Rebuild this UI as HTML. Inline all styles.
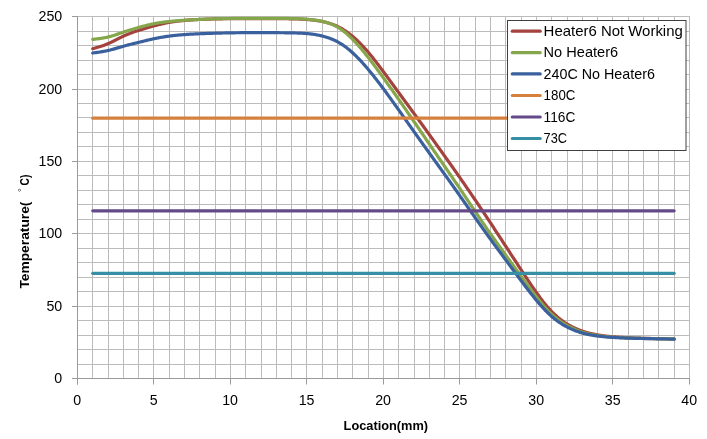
<!DOCTYPE html>
<html><head><meta charset="utf-8"><title>Temperature vs Location</title>
<style>
html,body{margin:0;padding:0;background:#fff;}
body{width:707px;height:439px;overflow:hidden;}
svg{display:block;}
text{font-family:'Liberation Sans', Arial, sans-serif;fill:#000;}
</style></head><body>
<svg width="707" height="439" viewBox="0 0 707 439">
<line x1="77.5" y1="16.10" x2="77.5" y2="378.70" stroke="#bcbcbc" stroke-width="1"/>
<line x1="92.5" y1="16.10" x2="92.5" y2="378.70" stroke="#bcbcbc" stroke-width="1"/>
<line x1="108.5" y1="16.10" x2="108.5" y2="378.70" stroke="#bcbcbc" stroke-width="1"/>
<line x1="123.5" y1="16.10" x2="123.5" y2="378.70" stroke="#bcbcbc" stroke-width="1"/>
<line x1="138.5" y1="16.10" x2="138.5" y2="378.70" stroke="#bcbcbc" stroke-width="1"/>
<line x1="153.5" y1="16.10" x2="153.5" y2="378.70" stroke="#bcbcbc" stroke-width="1"/>
<line x1="169.5" y1="16.10" x2="169.5" y2="378.70" stroke="#bcbcbc" stroke-width="1"/>
<line x1="184.5" y1="16.10" x2="184.5" y2="378.70" stroke="#bcbcbc" stroke-width="1"/>
<line x1="199.5" y1="16.10" x2="199.5" y2="378.70" stroke="#bcbcbc" stroke-width="1"/>
<line x1="215.5" y1="16.10" x2="215.5" y2="378.70" stroke="#bcbcbc" stroke-width="1"/>
<line x1="230.5" y1="16.10" x2="230.5" y2="378.70" stroke="#bcbcbc" stroke-width="1"/>
<line x1="245.5" y1="16.10" x2="245.5" y2="378.70" stroke="#bcbcbc" stroke-width="1"/>
<line x1="261.5" y1="16.10" x2="261.5" y2="378.70" stroke="#bcbcbc" stroke-width="1"/>
<line x1="276.5" y1="16.10" x2="276.5" y2="378.70" stroke="#bcbcbc" stroke-width="1"/>
<line x1="291.5" y1="16.10" x2="291.5" y2="378.70" stroke="#bcbcbc" stroke-width="1"/>
<line x1="306.5" y1="16.10" x2="306.5" y2="378.70" stroke="#bcbcbc" stroke-width="1"/>
<line x1="322.5" y1="16.10" x2="322.5" y2="378.70" stroke="#bcbcbc" stroke-width="1"/>
<line x1="337.5" y1="16.10" x2="337.5" y2="378.70" stroke="#bcbcbc" stroke-width="1"/>
<line x1="352.5" y1="16.10" x2="352.5" y2="378.70" stroke="#bcbcbc" stroke-width="1"/>
<line x1="368.5" y1="16.10" x2="368.5" y2="378.70" stroke="#bcbcbc" stroke-width="1"/>
<line x1="383.5" y1="16.10" x2="383.5" y2="378.70" stroke="#bcbcbc" stroke-width="1"/>
<line x1="398.5" y1="16.10" x2="398.5" y2="378.70" stroke="#bcbcbc" stroke-width="1"/>
<line x1="414.5" y1="16.10" x2="414.5" y2="378.70" stroke="#bcbcbc" stroke-width="1"/>
<line x1="429.5" y1="16.10" x2="429.5" y2="378.70" stroke="#bcbcbc" stroke-width="1"/>
<line x1="444.5" y1="16.10" x2="444.5" y2="378.70" stroke="#bcbcbc" stroke-width="1"/>
<line x1="459.5" y1="16.10" x2="459.5" y2="378.70" stroke="#bcbcbc" stroke-width="1"/>
<line x1="475.5" y1="16.10" x2="475.5" y2="378.70" stroke="#bcbcbc" stroke-width="1"/>
<line x1="490.5" y1="16.10" x2="490.5" y2="378.70" stroke="#bcbcbc" stroke-width="1"/>
<line x1="505.5" y1="16.10" x2="505.5" y2="378.70" stroke="#bcbcbc" stroke-width="1"/>
<line x1="521.5" y1="16.10" x2="521.5" y2="378.70" stroke="#bcbcbc" stroke-width="1"/>
<line x1="536.5" y1="16.10" x2="536.5" y2="378.70" stroke="#bcbcbc" stroke-width="1"/>
<line x1="551.5" y1="16.10" x2="551.5" y2="378.70" stroke="#bcbcbc" stroke-width="1"/>
<line x1="567.5" y1="16.10" x2="567.5" y2="378.70" stroke="#bcbcbc" stroke-width="1"/>
<line x1="582.5" y1="16.10" x2="582.5" y2="378.70" stroke="#bcbcbc" stroke-width="1"/>
<line x1="597.5" y1="16.10" x2="597.5" y2="378.70" stroke="#bcbcbc" stroke-width="1"/>
<line x1="612.5" y1="16.10" x2="612.5" y2="378.70" stroke="#bcbcbc" stroke-width="1"/>
<line x1="628.5" y1="16.10" x2="628.5" y2="378.70" stroke="#bcbcbc" stroke-width="1"/>
<line x1="643.5" y1="16.10" x2="643.5" y2="378.70" stroke="#bcbcbc" stroke-width="1"/>
<line x1="658.5" y1="16.10" x2="658.5" y2="378.70" stroke="#bcbcbc" stroke-width="1"/>
<line x1="674.5" y1="16.10" x2="674.5" y2="378.70" stroke="#bcbcbc" stroke-width="1"/>
<line x1="689.5" y1="16.10" x2="689.5" y2="378.70" stroke="#bcbcbc" stroke-width="1"/>
<line x1="77.45" y1="378.5" x2="689.95" y2="378.5" stroke="#bcbcbc" stroke-width="1"/>
<line x1="77.45" y1="364.5" x2="689.95" y2="364.5" stroke="#bcbcbc" stroke-width="1"/>
<line x1="77.45" y1="349.5" x2="689.95" y2="349.5" stroke="#bcbcbc" stroke-width="1"/>
<line x1="77.45" y1="335.5" x2="689.95" y2="335.5" stroke="#bcbcbc" stroke-width="1"/>
<line x1="77.45" y1="320.5" x2="689.95" y2="320.5" stroke="#bcbcbc" stroke-width="1"/>
<line x1="77.45" y1="306.5" x2="689.95" y2="306.5" stroke="#bcbcbc" stroke-width="1"/>
<line x1="77.45" y1="291.5" x2="689.95" y2="291.5" stroke="#bcbcbc" stroke-width="1"/>
<line x1="77.45" y1="277.5" x2="689.95" y2="277.5" stroke="#bcbcbc" stroke-width="1"/>
<line x1="77.45" y1="262.5" x2="689.95" y2="262.5" stroke="#bcbcbc" stroke-width="1"/>
<line x1="77.45" y1="248.5" x2="689.95" y2="248.5" stroke="#bcbcbc" stroke-width="1"/>
<line x1="77.45" y1="233.5" x2="689.95" y2="233.5" stroke="#bcbcbc" stroke-width="1"/>
<line x1="77.45" y1="219.5" x2="689.95" y2="219.5" stroke="#bcbcbc" stroke-width="1"/>
<line x1="77.45" y1="204.5" x2="689.95" y2="204.5" stroke="#bcbcbc" stroke-width="1"/>
<line x1="77.45" y1="190.5" x2="689.95" y2="190.5" stroke="#bcbcbc" stroke-width="1"/>
<line x1="77.45" y1="175.5" x2="689.95" y2="175.5" stroke="#bcbcbc" stroke-width="1"/>
<line x1="77.45" y1="161.5" x2="689.95" y2="161.5" stroke="#bcbcbc" stroke-width="1"/>
<line x1="77.45" y1="146.5" x2="689.95" y2="146.5" stroke="#bcbcbc" stroke-width="1"/>
<line x1="77.45" y1="132.5" x2="689.95" y2="132.5" stroke="#bcbcbc" stroke-width="1"/>
<line x1="77.45" y1="117.5" x2="689.95" y2="117.5" stroke="#bcbcbc" stroke-width="1"/>
<line x1="77.45" y1="103.5" x2="689.95" y2="103.5" stroke="#bcbcbc" stroke-width="1"/>
<line x1="77.45" y1="89.5" x2="689.95" y2="89.5" stroke="#bcbcbc" stroke-width="1"/>
<line x1="77.45" y1="74.5" x2="689.95" y2="74.5" stroke="#bcbcbc" stroke-width="1"/>
<line x1="77.45" y1="60.5" x2="689.95" y2="60.5" stroke="#bcbcbc" stroke-width="1"/>
<line x1="77.45" y1="45.5" x2="689.95" y2="45.5" stroke="#bcbcbc" stroke-width="1"/>
<line x1="77.45" y1="31.5" x2="689.95" y2="31.5" stroke="#bcbcbc" stroke-width="1"/>
<line x1="77.45" y1="16.5" x2="689.95" y2="16.5" stroke="#bcbcbc" stroke-width="1"/>
<line x1="77.5" y1="16.10" x2="77.5" y2="384.5" stroke="#9a9a9a" stroke-width="1"/>
<line x1="72.0" y1="378.5" x2="689.95" y2="378.5" stroke="#9a9a9a" stroke-width="1"/>
<line x1="72.0" y1="378.5" x2="77.5" y2="378.5" stroke="#9a9a9a" stroke-width="1"/>
<line x1="72.0" y1="306.5" x2="77.5" y2="306.5" stroke="#9a9a9a" stroke-width="1"/>
<line x1="72.0" y1="233.5" x2="77.5" y2="233.5" stroke="#9a9a9a" stroke-width="1"/>
<line x1="72.0" y1="161.5" x2="77.5" y2="161.5" stroke="#9a9a9a" stroke-width="1"/>
<line x1="72.0" y1="89.5" x2="77.5" y2="89.5" stroke="#9a9a9a" stroke-width="1"/>
<line x1="72.0" y1="16.5" x2="77.5" y2="16.5" stroke="#9a9a9a" stroke-width="1"/>
<line x1="77.5" y1="378.5" x2="77.5" y2="384.5" stroke="#9a9a9a" stroke-width="1"/>
<line x1="153.5" y1="378.5" x2="153.5" y2="384.5" stroke="#9a9a9a" stroke-width="1"/>
<line x1="230.5" y1="378.5" x2="230.5" y2="384.5" stroke="#9a9a9a" stroke-width="1"/>
<line x1="306.5" y1="378.5" x2="306.5" y2="384.5" stroke="#9a9a9a" stroke-width="1"/>
<line x1="383.5" y1="378.5" x2="383.5" y2="384.5" stroke="#9a9a9a" stroke-width="1"/>
<line x1="459.5" y1="378.5" x2="459.5" y2="384.5" stroke="#9a9a9a" stroke-width="1"/>
<line x1="536.5" y1="378.5" x2="536.5" y2="384.5" stroke="#9a9a9a" stroke-width="1"/>
<line x1="612.5" y1="378.5" x2="612.5" y2="384.5" stroke="#9a9a9a" stroke-width="1"/>
<line x1="689.5" y1="378.5" x2="689.5" y2="384.5" stroke="#9a9a9a" stroke-width="1"/>
<path d="M92.70,48.68 L93.53,48.45 L94.36,48.22 L95.19,47.99 L96.03,47.76 L96.86,47.52 L97.69,47.28 L98.52,47.04 L99.35,46.79 L100.18,46.54 L101.02,46.27 L101.85,46.00 L102.68,45.73 L103.51,45.44 L104.34,45.15 L105.18,44.84 L106.01,44.52 L106.84,44.19 L107.67,43.85 L108.50,43.50 L109.34,43.13 L110.17,42.75 L111.00,42.36 L111.83,41.96 L112.66,41.55 L113.50,41.14 L114.33,40.72 L115.16,40.30 L115.99,39.88 L116.82,39.45 L117.65,39.03 L118.49,38.60 L119.32,38.18 L120.15,37.76 L120.98,37.35 L121.81,36.94 L122.65,36.54 L123.48,36.15 L124.31,35.77 L125.14,35.40 L125.97,35.04 L126.81,34.69 L127.64,34.34 L128.47,34.00 L129.30,33.67 L130.13,33.35 L130.97,33.03 L131.80,32.73 L132.63,32.42 L133.46,32.12 L134.29,31.83 L135.12,31.55 L135.96,31.26 L136.79,30.98 L137.62,30.71 L138.45,30.44 L139.28,30.17 L140.12,29.91 L140.95,29.64 L141.78,29.39 L142.61,29.13 L143.44,28.88 L144.28,28.63 L145.11,28.38 L145.94,28.13 L146.77,27.89 L147.60,27.65 L148.44,27.41 L149.27,27.18 L150.10,26.95 L150.93,26.72 L151.76,26.49 L152.59,26.26 L153.43,26.04 L154.26,25.82 L155.09,25.60 L155.92,25.38 L156.75,25.17 L157.59,24.95 L158.42,24.75 L159.25,24.54 L160.08,24.34 L160.91,24.14 L161.75,23.94 L162.58,23.75 L163.41,23.57 L164.24,23.39 L165.07,23.21 L165.91,23.04 L166.74,22.87 L167.57,22.71 L168.40,22.55 L169.23,22.40 L170.06,22.25 L170.90,22.11 L171.73,21.98 L172.56,21.85 L173.39,21.73 L174.22,21.61 L175.06,21.49 L175.89,21.38 L176.72,21.28 L177.55,21.18 L178.38,21.08 L179.22,20.98 L180.05,20.89 L180.88,20.81 L181.71,20.72 L182.54,20.64 L183.38,20.57 L184.21,20.49 L185.04,20.42 L185.87,20.35 L186.70,20.28 L187.53,20.21 L188.37,20.15 L189.20,20.09 L190.03,20.03 L190.86,19.97 L191.69,19.91 L192.53,19.86 L193.36,19.81 L194.19,19.75 L195.02,19.71 L195.85,19.66 L196.69,19.61 L197.52,19.57 L198.35,19.52 L199.18,19.48 L200.01,19.44 L200.85,19.40 L201.68,19.36 L202.51,19.33 L203.34,19.29 L204.17,19.26 L205.00,19.23 L205.84,19.19 L206.67,19.16 L207.50,19.13 L208.33,19.10 L209.16,19.08 L210.00,19.05 L210.83,19.03 L211.66,19.00 L212.49,18.98 L213.32,18.96 L214.16,18.94 L214.99,18.92 L215.82,18.90 L216.65,18.88 L217.48,18.86 L218.32,18.85 L219.15,18.83 L219.98,18.82 L220.81,18.80 L221.64,18.79 L222.47,18.78 L223.31,18.77 L224.14,18.76 L224.97,18.75 L225.80,18.74 L226.63,18.73 L227.47,18.72 L228.30,18.72 L229.13,18.71 L229.96,18.71 L230.79,18.70 L231.63,18.70 L232.46,18.69 L233.29,18.69 L234.12,18.69 L234.95,18.68 L235.79,18.68 L236.62,18.68 L237.45,18.68 L238.28,18.68 L239.11,18.68 L239.94,18.68 L240.78,18.67 L241.61,18.67 L242.44,18.67 L243.27,18.67 L244.10,18.67 L244.94,18.67 L245.77,18.67 L246.60,18.67 L247.43,18.67 L248.26,18.67 L249.10,18.67 L249.93,18.67 L250.76,18.67 L251.59,18.67 L252.42,18.67 L253.26,18.67 L254.09,18.67 L254.92,18.67 L255.75,18.67 L256.58,18.67 L257.41,18.67 L258.25,18.67 L259.08,18.67 L259.91,18.67 L260.74,18.67 L261.57,18.67 L262.41,18.67 L263.24,18.67 L264.07,18.67 L264.90,18.67 L265.73,18.67 L266.57,18.67 L267.40,18.67 L268.23,18.66 L269.06,18.66 L269.89,18.66 L270.73,18.66 L271.56,18.66 L272.39,18.67 L273.22,18.67 L274.05,18.67 L274.88,18.67 L275.72,18.67 L276.55,18.67 L277.38,18.67 L278.21,18.68 L279.04,18.68 L279.88,18.68 L280.71,18.69 L281.54,18.69 L282.37,18.70 L283.20,18.71 L284.04,18.71 L284.87,18.72 L285.70,18.73 L286.53,18.74 L287.36,18.75 L288.20,18.76 L289.03,18.78 L289.86,18.79 L290.69,18.81 L291.52,18.82 L292.36,18.84 L293.19,18.86 L294.02,18.88 L294.85,18.90 L295.68,18.93 L296.51,18.95 L297.35,18.98 L298.18,19.01 L299.01,19.05 L299.84,19.08 L300.67,19.12 L301.51,19.16 L302.34,19.20 L303.17,19.25 L304.00,19.30 L304.83,19.35 L305.67,19.41 L306.50,19.47 L307.33,19.53 L308.16,19.60 L308.99,19.67 L309.83,19.74 L310.66,19.82 L311.49,19.90 L312.32,19.99 L313.15,20.09 L313.98,20.19 L314.82,20.29 L315.65,20.40 L316.48,20.52 L317.31,20.64 L318.14,20.77 L318.98,20.90 L319.81,21.05 L320.64,21.20 L321.47,21.35 L322.30,21.52 L323.14,21.69 L323.97,21.87 L324.80,22.06 L325.63,22.26 L326.46,22.47 L327.30,22.69 L328.13,22.92 L328.96,23.16 L329.79,23.41 L330.62,23.68 L331.45,23.95 L332.29,24.25 L333.12,24.55 L333.95,24.87 L334.78,25.21 L335.61,25.56 L336.45,25.93 L337.28,26.31 L338.11,26.71 L338.94,27.13 L339.77,27.56 L340.61,28.02 L341.44,28.49 L342.27,28.97 L343.10,29.47 L343.93,29.99 L344.77,30.53 L345.60,31.08 L346.43,31.65 L347.26,32.23 L348.09,32.84 L348.92,33.45 L349.76,34.09 L350.59,34.74 L351.42,35.40 L352.25,36.09 L353.08,36.78 L353.92,37.50 L354.75,38.23 L355.58,38.97 L356.41,39.73 L357.24,40.51 L358.08,41.30 L358.91,42.11 L359.74,42.94 L360.57,43.78 L361.40,44.64 L362.24,45.51 L363.07,46.40 L363.90,47.30 L364.73,48.22 L365.56,49.15 L366.39,50.09 L367.23,51.05 L368.06,52.03 L368.89,53.01 L369.72,54.01 L370.55,55.02 L371.39,56.04 L372.22,57.07 L373.05,58.11 L373.88,59.15 L374.71,60.21 L375.55,61.28 L376.38,62.36 L377.21,63.44 L378.04,64.53 L378.87,65.63 L379.71,66.73 L380.54,67.84 L381.37,68.95 L382.20,70.07 L383.03,71.19 L383.86,72.31 L384.70,73.44 L385.53,74.57 L386.36,75.71 L387.19,76.84 L388.02,77.98 L388.86,79.11 L389.69,80.25 L390.52,81.39 L391.35,82.53 L392.18,83.67 L393.02,84.81 L393.85,85.95 L394.68,87.09 L395.51,88.23 L396.34,89.37 L397.18,90.51 L398.01,91.64 L398.84,92.78 L399.67,93.91 L400.50,95.05 L401.33,96.18 L402.17,97.32 L403.00,98.45 L403.83,99.59 L404.66,100.72 L405.49,101.85 L406.33,102.99 L407.16,104.12 L407.99,105.26 L408.82,106.40 L409.65,107.53 L410.49,108.67 L411.32,109.81 L412.15,110.95 L412.98,112.09 L413.81,113.23 L414.65,114.37 L415.48,115.51 L416.31,116.65 L417.14,117.79 L417.97,118.94 L418.80,120.08 L419.64,121.22 L420.47,122.37 L421.30,123.52 L422.13,124.67 L422.96,125.81 L423.80,126.96 L424.63,128.11 L425.46,129.27 L426.29,130.42 L427.12,131.57 L427.96,132.73 L428.79,133.88 L429.62,135.04 L430.45,136.20 L431.28,137.36 L432.12,138.52 L432.95,139.68 L433.78,140.84 L434.61,142.00 L435.44,143.16 L436.27,144.33 L437.11,145.49 L437.94,146.65 L438.77,147.82 L439.60,148.98 L440.43,150.15 L441.27,151.31 L442.10,152.48 L442.93,153.64 L443.76,154.81 L444.59,155.98 L445.43,157.14 L446.26,158.31 L447.09,159.48 L447.92,160.65 L448.75,161.82 L449.59,163.00 L450.42,164.17 L451.25,165.34 L452.08,166.52 L452.91,167.70 L453.74,168.88 L454.58,170.06 L455.41,171.24 L456.24,172.43 L457.07,173.61 L457.90,174.80 L458.74,176.00 L459.57,177.19 L460.40,178.39 L461.23,179.59 L462.06,180.79 L462.90,182.00 L463.73,183.20 L464.56,184.41 L465.39,185.62 L466.22,186.83 L467.06,188.04 L467.89,189.25 L468.72,190.47 L469.55,191.68 L470.38,192.89 L471.21,194.11 L472.05,195.32 L472.88,196.54 L473.71,197.76 L474.54,198.98 L475.37,200.20 L476.21,201.42 L477.04,202.65 L477.87,203.88 L478.70,205.11 L479.53,206.35 L480.37,207.58 L481.20,208.83 L482.03,210.07 L482.86,211.32 L483.69,212.56 L484.53,213.82 L485.36,215.07 L486.19,216.33 L487.02,217.59 L487.85,218.85 L488.68,220.11 L489.52,221.38 L490.35,222.65 L491.18,223.92 L492.01,225.19 L492.84,226.47 L493.68,227.74 L494.51,229.02 L495.34,230.29 L496.17,231.57 L497.00,232.84 L497.84,234.12 L498.67,235.39 L499.50,236.67 L500.33,237.94 L501.16,239.22 L502.00,240.49 L502.83,241.77 L503.66,243.04 L504.49,244.32 L505.32,245.59 L506.15,246.87 L506.99,248.15 L507.82,249.42 L508.65,250.70 L509.48,251.98 L510.31,253.26 L511.15,254.54 L511.98,255.82 L512.81,257.10 L513.64,258.38 L514.47,259.66 L515.31,260.93 L516.14,262.21 L516.97,263.48 L517.80,264.76 L518.63,266.03 L519.47,267.30 L520.30,268.57 L521.13,269.84 L521.96,271.10 L522.79,272.37 L523.62,273.63 L524.46,274.89 L525.29,276.14 L526.12,277.40 L526.95,278.65 L527.78,279.90 L528.62,281.14 L529.45,282.38 L530.28,283.62 L531.11,284.85 L531.94,286.07 L532.78,287.29 L533.61,288.50 L534.44,289.70 L535.27,290.89 L536.10,292.07 L536.94,293.25 L537.77,294.41 L538.60,295.56 L539.43,296.70 L540.26,297.83 L541.09,298.94 L541.93,300.04 L542.76,301.13 L543.59,302.19 L544.42,303.24 L545.25,304.27 L546.09,305.29 L546.92,306.28 L547.75,307.25 L548.58,308.21 L549.41,309.14 L550.25,310.05 L551.08,310.93 L551.91,311.80 L552.74,312.64 L553.57,313.46 L554.41,314.25 L555.24,315.03 L556.07,315.78 L556.90,316.51 L557.73,317.22 L558.57,317.91 L559.40,318.58 L560.23,319.24 L561.06,319.87 L561.89,320.49 L562.72,321.09 L563.56,321.67 L564.39,322.24 L565.22,322.78 L566.05,323.32 L566.88,323.84 L567.72,324.34 L568.55,324.83 L569.38,325.31 L570.21,325.77 L571.04,326.22 L571.88,326.65 L572.71,327.07 L573.54,327.48 L574.37,327.88 L575.20,328.26 L576.04,328.63 L576.87,328.99 L577.70,329.34 L578.53,329.68 L579.36,330.00 L580.19,330.32 L581.03,330.62 L581.86,330.92 L582.69,331.20 L583.52,331.48 L584.35,331.74 L585.19,332.00 L586.02,332.25 L586.85,332.49 L587.68,332.72 L588.51,332.94 L589.35,333.15 L590.18,333.36 L591.01,333.55 L591.84,333.75 L592.67,333.93 L593.51,334.11 L594.34,334.28 L595.17,334.44 L596.00,334.60 L596.83,334.75 L597.66,334.89 L598.50,335.03 L599.33,335.17 L600.16,335.30 L600.99,335.42 L601.82,335.54 L602.66,335.65 L603.49,335.76 L604.32,335.87 L605.15,335.97 L605.98,336.07 L606.82,336.16 L607.65,336.26 L608.48,336.34 L609.31,336.43 L610.14,336.51 L610.98,336.59 L611.81,336.66 L612.64,336.73 L613.47,336.81 L614.30,336.87 L615.13,336.94 L615.97,337.00 L616.80,337.07 L617.63,337.13 L618.46,337.19 L619.29,337.24 L620.13,337.30 L620.96,337.35 L621.79,337.40 L622.62,337.45 L623.45,337.50 L624.29,337.55 L625.12,337.59 L625.95,337.63 L626.78,337.68 L627.61,337.72 L628.45,337.76 L629.28,337.80 L630.11,337.83 L630.94,337.87 L631.77,337.91 L632.60,337.94 L633.44,337.97 L634.27,338.01 L635.10,338.04 L635.93,338.07 L636.76,338.10 L637.60,338.12 L638.43,338.15 L639.26,338.18 L640.09,338.20 L640.92,338.23 L641.76,338.25 L642.59,338.28 L643.42,338.30 L644.25,338.32 L645.08,338.34 L645.92,338.36 L646.75,338.38 L647.58,338.40 L648.41,338.42 L649.24,338.44 L650.07,338.46 L650.91,338.48 L651.74,338.50 L652.57,338.51 L653.40,338.53 L654.23,338.55 L655.07,338.56 L655.90,338.58 L656.73,338.59 L657.56,338.61 L658.39,338.62 L659.23,338.64 L660.06,338.65 L660.89,338.67 L661.72,338.68 L662.55,338.70 L663.39,338.71 L664.22,338.73 L665.05,338.74 L665.88,338.76 L666.71,338.77 L667.54,338.79 L668.38,338.80 L669.21,338.82 L670.04,338.83 L670.87,338.85 L671.70,338.86 L672.54,338.88 L673.37,338.89 L674.20,338.90" fill="none" stroke="#a4433d" stroke-width="3.2" stroke-linejoin="round" stroke-linecap="round"/>
<path d="M92.70,39.39 L93.53,39.30 L94.36,39.20 L95.19,39.11 L96.03,39.01 L96.86,38.91 L97.69,38.81 L98.52,38.70 L99.35,38.59 L100.18,38.47 L101.02,38.35 L101.85,38.22 L102.68,38.08 L103.51,37.94 L104.34,37.79 L105.18,37.63 L106.01,37.46 L106.84,37.28 L107.67,37.09 L108.50,36.89 L109.34,36.67 L110.17,36.45 L111.00,36.22 L111.83,35.98 L112.66,35.73 L113.50,35.47 L114.33,35.21 L115.16,34.94 L115.99,34.67 L116.82,34.39 L117.65,34.11 L118.49,33.83 L119.32,33.54 L120.15,33.26 L120.98,32.98 L121.81,32.69 L122.65,32.41 L123.48,32.13 L124.31,31.85 L125.14,31.58 L125.97,31.31 L126.81,31.04 L127.64,30.77 L128.47,30.51 L129.30,30.25 L130.13,29.99 L130.97,29.74 L131.80,29.49 L132.63,29.24 L133.46,28.99 L134.29,28.74 L135.12,28.50 L135.96,28.26 L136.79,28.02 L137.62,27.78 L138.45,27.54 L139.28,27.31 L140.12,27.07 L140.95,26.84 L141.78,26.62 L142.61,26.39 L143.44,26.17 L144.28,25.95 L145.11,25.73 L145.94,25.52 L146.77,25.31 L147.60,25.11 L148.44,24.91 L149.27,24.71 L150.10,24.52 L150.93,24.33 L151.76,24.15 L152.59,23.97 L153.43,23.80 L154.26,23.64 L155.09,23.48 L155.92,23.33 L156.75,23.18 L157.59,23.03 L158.42,22.90 L159.25,22.76 L160.08,22.63 L160.91,22.51 L161.75,22.39 L162.58,22.28 L163.41,22.16 L164.24,22.06 L165.07,21.95 L165.91,21.85 L166.74,21.75 L167.57,21.66 L168.40,21.57 L169.23,21.48 L170.06,21.39 L170.90,21.31 L171.73,21.23 L172.56,21.15 L173.39,21.08 L174.22,21.00 L175.06,20.93 L175.89,20.86 L176.72,20.79 L177.55,20.72 L178.38,20.66 L179.22,20.60 L180.05,20.53 L180.88,20.47 L181.71,20.41 L182.54,20.36 L183.38,20.30 L184.21,20.25 L185.04,20.19 L185.87,20.14 L186.70,20.09 L187.53,20.04 L188.37,19.98 L189.20,19.94 L190.03,19.89 L190.86,19.84 L191.69,19.79 L192.53,19.75 L193.36,19.70 L194.19,19.66 L195.02,19.61 L195.85,19.57 L196.69,19.53 L197.52,19.49 L198.35,19.45 L199.18,19.41 L200.01,19.37 L200.85,19.33 L201.68,19.30 L202.51,19.26 L203.34,19.22 L204.17,19.19 L205.00,19.15 L205.84,19.12 L206.67,19.09 L207.50,19.06 L208.33,19.02 L209.16,18.99 L210.00,18.96 L210.83,18.93 L211.66,18.91 L212.49,18.88 L213.32,18.85 L214.16,18.83 L214.99,18.80 L215.82,18.78 L216.65,18.75 L217.48,18.73 L218.32,18.71 L219.15,18.69 L219.98,18.66 L220.81,18.64 L221.64,18.63 L222.47,18.61 L223.31,18.59 L224.14,18.57 L224.97,18.56 L225.80,18.54 L226.63,18.53 L227.47,18.52 L228.30,18.50 L229.13,18.49 L229.96,18.48 L230.79,18.47 L231.63,18.46 L232.46,18.45 L233.29,18.45 L234.12,18.44 L234.95,18.43 L235.79,18.43 L236.62,18.42 L237.45,18.42 L238.28,18.42 L239.11,18.41 L239.94,18.41 L240.78,18.41 L241.61,18.40 L242.44,18.40 L243.27,18.40 L244.10,18.40 L244.94,18.40 L245.77,18.40 L246.60,18.40 L247.43,18.40 L248.26,18.40 L249.10,18.40 L249.93,18.40 L250.76,18.40 L251.59,18.39 L252.42,18.39 L253.26,18.39 L254.09,18.39 L254.92,18.39 L255.75,18.39 L256.58,18.39 L257.41,18.39 L258.25,18.39 L259.08,18.39 L259.91,18.39 L260.74,18.39 L261.57,18.39 L262.41,18.39 L263.24,18.39 L264.07,18.39 L264.90,18.39 L265.73,18.39 L266.57,18.39 L267.40,18.38 L268.23,18.38 L269.06,18.38 L269.89,18.38 L270.73,18.38 L271.56,18.38 L272.39,18.38 L273.22,18.38 L274.05,18.38 L274.88,18.38 L275.72,18.38 L276.55,18.38 L277.38,18.39 L278.21,18.39 L279.04,18.39 L279.88,18.39 L280.71,18.40 L281.54,18.40 L282.37,18.41 L283.20,18.41 L284.04,18.42 L284.87,18.43 L285.70,18.43 L286.53,18.44 L287.36,18.45 L288.20,18.47 L289.03,18.48 L289.86,18.49 L290.69,18.51 L291.52,18.52 L292.36,18.54 L293.19,18.56 L294.02,18.59 L294.85,18.61 L295.68,18.63 L296.51,18.66 L297.35,18.69 L298.18,18.72 L299.01,18.76 L299.84,18.80 L300.67,18.84 L301.51,18.88 L302.34,18.92 L303.17,18.97 L304.00,19.02 L304.83,19.08 L305.67,19.13 L306.50,19.19 L307.33,19.26 L308.16,19.33 L308.99,19.40 L309.83,19.47 L310.66,19.55 L311.49,19.64 L312.32,19.73 L313.15,19.83 L313.98,19.93 L314.82,20.04 L315.65,20.16 L316.48,20.28 L317.31,20.41 L318.14,20.55 L318.98,20.69 L319.81,20.84 L320.64,21.01 L321.47,21.18 L322.30,21.36 L323.14,21.55 L323.97,21.75 L324.80,21.96 L325.63,22.18 L326.46,22.41 L327.30,22.66 L328.13,22.92 L328.96,23.20 L329.79,23.49 L330.62,23.80 L331.45,24.13 L332.29,24.47 L333.12,24.83 L333.95,25.21 L334.78,25.61 L335.61,26.03 L336.45,26.47 L337.28,26.94 L338.11,27.43 L338.94,27.94 L339.77,28.47 L340.61,29.02 L341.44,29.60 L342.27,30.20 L343.10,30.82 L343.93,31.46 L344.77,32.12 L345.60,32.80 L346.43,33.50 L347.26,34.22 L348.09,34.96 L348.92,35.72 L349.76,36.50 L350.59,37.29 L351.42,38.11 L352.25,38.94 L353.08,39.78 L353.92,40.65 L354.75,41.53 L355.58,42.42 L356.41,43.33 L357.24,44.25 L358.08,45.19 L358.91,46.14 L359.74,47.10 L360.57,48.07 L361.40,49.06 L362.24,50.06 L363.07,51.06 L363.90,52.08 L364.73,53.11 L365.56,54.14 L366.39,55.18 L367.23,56.24 L368.06,57.30 L368.89,58.36 L369.72,59.43 L370.55,60.51 L371.39,61.60 L372.22,62.69 L373.05,63.78 L373.88,64.89 L374.71,65.99 L375.55,67.11 L376.38,68.22 L377.21,69.35 L378.04,70.47 L378.87,71.61 L379.71,72.74 L380.54,73.88 L381.37,75.03 L382.20,76.18 L383.03,77.33 L383.86,78.49 L384.70,79.65 L385.53,80.81 L386.36,81.97 L387.19,83.14 L388.02,84.31 L388.86,85.48 L389.69,86.65 L390.52,87.83 L391.35,89.01 L392.18,90.18 L393.02,91.36 L393.85,92.54 L394.68,93.72 L395.51,94.90 L396.34,96.09 L397.18,97.27 L398.01,98.46 L398.84,99.64 L399.67,100.83 L400.50,102.03 L401.33,103.22 L402.17,104.41 L403.00,105.61 L403.83,106.81 L404.66,108.01 L405.49,109.21 L406.33,110.42 L407.16,111.62 L407.99,112.83 L408.82,114.04 L409.65,115.25 L410.49,116.46 L411.32,117.67 L412.15,118.89 L412.98,120.10 L413.81,121.31 L414.65,122.53 L415.48,123.75 L416.31,124.96 L417.14,126.18 L417.97,127.40 L418.80,128.62 L419.64,129.84 L420.47,131.05 L421.30,132.27 L422.13,133.49 L422.96,134.71 L423.80,135.93 L424.63,137.15 L425.46,138.37 L426.29,139.58 L427.12,140.80 L427.96,142.02 L428.79,143.24 L429.62,144.45 L430.45,145.67 L431.28,146.89 L432.12,148.10 L432.95,149.31 L433.78,150.53 L434.61,151.74 L435.44,152.95 L436.27,154.16 L437.11,155.38 L437.94,156.59 L438.77,157.80 L439.60,159.01 L440.43,160.22 L441.27,161.43 L442.10,162.63 L442.93,163.84 L443.76,165.05 L444.59,166.26 L445.43,167.47 L446.26,168.68 L447.09,169.89 L447.92,171.10 L448.75,172.31 L449.59,173.52 L450.42,174.73 L451.25,175.94 L452.08,177.16 L452.91,178.38 L453.74,179.59 L454.58,180.81 L455.41,182.03 L456.24,183.25 L457.07,184.48 L457.90,185.71 L458.74,186.93 L459.57,188.16 L460.40,189.40 L461.23,190.63 L462.06,191.87 L462.90,193.11 L463.73,194.35 L464.56,195.59 L465.39,196.84 L466.22,198.08 L467.06,199.33 L467.89,200.58 L468.72,201.82 L469.55,203.07 L470.38,204.32 L471.21,205.56 L472.05,206.80 L472.88,208.05 L473.71,209.29 L474.54,210.53 L475.37,211.76 L476.21,213.00 L477.04,214.23 L477.87,215.47 L478.70,216.70 L479.53,217.93 L480.37,219.15 L481.20,220.38 L482.03,221.60 L482.86,222.82 L483.69,224.03 L484.53,225.25 L485.36,226.46 L486.19,227.67 L487.02,228.87 L487.85,230.07 L488.68,231.27 L489.52,232.46 L490.35,233.65 L491.18,234.83 L492.01,236.01 L492.84,237.19 L493.68,238.36 L494.51,239.53 L495.34,240.70 L496.17,241.87 L497.00,243.03 L497.84,244.19 L498.67,245.35 L499.50,246.50 L500.33,247.66 L501.16,248.81 L502.00,249.96 L502.83,251.11 L503.66,252.26 L504.49,253.41 L505.32,254.56 L506.15,255.71 L506.99,256.86 L507.82,258.01 L508.65,259.15 L509.48,260.30 L510.31,261.45 L511.15,262.59 L511.98,263.74 L512.81,264.88 L513.64,266.03 L514.47,267.17 L515.31,268.32 L516.14,269.47 L516.97,270.61 L517.80,271.76 L518.63,272.90 L519.47,274.05 L520.30,275.19 L521.13,276.34 L521.96,277.49 L522.79,278.63 L523.62,279.78 L524.46,280.92 L525.29,282.07 L526.12,283.21 L526.95,284.34 L527.78,285.48 L528.62,286.61 L529.45,287.74 L530.28,288.86 L531.11,289.98 L531.94,291.10 L532.78,292.20 L533.61,293.30 L534.44,294.40 L535.27,295.48 L536.10,296.56 L536.94,297.63 L537.77,298.68 L538.60,299.73 L539.43,300.76 L540.26,301.79 L541.09,302.79 L541.93,303.79 L542.76,304.77 L543.59,305.73 L544.42,306.68 L545.25,307.62 L546.09,308.53 L546.92,309.43 L547.75,310.31 L548.58,311.17 L549.41,312.01 L550.25,312.83 L551.08,313.64 L551.91,314.42 L552.74,315.18 L553.57,315.92 L554.41,316.64 L555.24,317.34 L556.07,318.03 L556.90,318.69 L557.73,319.34 L558.57,319.97 L559.40,320.58 L560.23,321.18 L561.06,321.76 L561.89,322.32 L562.72,322.87 L563.56,323.40 L564.39,323.92 L565.22,324.43 L566.05,324.92 L566.88,325.40 L567.72,325.86 L568.55,326.32 L569.38,326.76 L570.21,327.19 L571.04,327.60 L571.88,328.01 L572.71,328.40 L573.54,328.78 L574.37,329.15 L575.20,329.51 L576.04,329.85 L576.87,330.19 L577.70,330.51 L578.53,330.83 L579.36,331.13 L580.19,331.42 L581.03,331.70 L581.86,331.98 L582.69,332.24 L583.52,332.49 L584.35,332.73 L585.19,332.97 L586.02,333.19 L586.85,333.41 L587.68,333.62 L588.51,333.81 L589.35,334.01 L590.18,334.19 L591.01,334.37 L591.84,334.53 L592.67,334.70 L593.51,334.85 L594.34,335.00 L595.17,335.14 L596.00,335.28 L596.83,335.41 L597.66,335.54 L598.50,335.66 L599.33,335.78 L600.16,335.89 L600.99,336.00 L601.82,336.10 L602.66,336.20 L603.49,336.29 L604.32,336.38 L605.15,336.47 L605.98,336.55 L606.82,336.63 L607.65,336.71 L608.48,336.79 L609.31,336.86 L610.14,336.92 L610.98,336.99 L611.81,337.05 L612.64,337.11 L613.47,337.17 L614.30,337.23 L615.13,337.29 L615.97,337.34 L616.80,337.39 L617.63,337.44 L618.46,337.49 L619.29,337.54 L620.13,337.58 L620.96,337.62 L621.79,337.67 L622.62,337.71 L623.45,337.75 L624.29,337.78 L625.12,337.82 L625.95,337.86 L626.78,337.89 L627.61,337.92 L628.45,337.96 L629.28,337.99 L630.11,338.02 L630.94,338.05 L631.77,338.08 L632.60,338.11 L633.44,338.13 L634.27,338.16 L635.10,338.19 L635.93,338.21 L636.76,338.24 L637.60,338.26 L638.43,338.28 L639.26,338.30 L640.09,338.33 L640.92,338.35 L641.76,338.37 L642.59,338.39 L643.42,338.41 L644.25,338.43 L645.08,338.45 L645.92,338.47 L646.75,338.49 L647.58,338.50 L648.41,338.52 L649.24,338.54 L650.07,338.56 L650.91,338.57 L651.74,338.59 L652.57,338.61 L653.40,338.62 L654.23,338.64 L655.07,338.65 L655.90,338.67 L656.73,338.68 L657.56,338.70 L658.39,338.72 L659.23,338.73 L660.06,338.75 L660.89,338.76 L661.72,338.78 L662.55,338.79 L663.39,338.81 L664.22,338.82 L665.05,338.84 L665.88,338.85 L666.71,338.87 L667.54,338.88 L668.38,338.90 L669.21,338.91 L670.04,338.93 L670.87,338.94 L671.70,338.96 L672.54,338.97 L673.37,338.99 L674.20,339.00" fill="none" stroke="#86a64b" stroke-width="3.2" stroke-linejoin="round" stroke-linecap="round"/>
<path d="M92.70,52.98 L93.53,52.88 L94.36,52.77 L95.19,52.66 L96.03,52.55 L96.86,52.44 L97.69,52.33 L98.52,52.21 L99.35,52.09 L100.18,51.97 L101.02,51.84 L101.85,51.70 L102.68,51.56 L103.51,51.42 L104.34,51.27 L105.18,51.11 L106.01,50.95 L106.84,50.77 L107.67,50.59 L108.50,50.40 L109.34,50.20 L110.17,50.00 L111.00,49.78 L111.83,49.56 L112.66,49.34 L113.50,49.11 L114.33,48.87 L115.16,48.63 L115.99,48.39 L116.82,48.15 L117.65,47.90 L118.49,47.66 L119.32,47.41 L120.15,47.17 L120.98,46.93 L121.81,46.68 L122.65,46.45 L123.48,46.21 L124.31,45.98 L125.14,45.75 L125.97,45.53 L126.81,45.31 L127.64,45.09 L128.47,44.88 L129.30,44.67 L130.13,44.45 L130.97,44.25 L131.80,44.04 L132.63,43.84 L133.46,43.63 L134.29,43.43 L135.12,43.23 L135.96,43.02 L136.79,42.82 L137.62,42.62 L138.45,42.41 L139.28,42.21 L140.12,42.01 L140.95,41.80 L141.78,41.60 L142.61,41.39 L143.44,41.19 L144.28,40.98 L145.11,40.78 L145.94,40.58 L146.77,40.38 L147.60,40.18 L148.44,39.98 L149.27,39.78 L150.10,39.59 L150.93,39.40 L151.76,39.21 L152.59,39.03 L153.43,38.85 L154.26,38.67 L155.09,38.50 L155.92,38.33 L156.75,38.16 L157.59,38.00 L158.42,37.84 L159.25,37.69 L160.08,37.53 L160.91,37.39 L161.75,37.24 L162.58,37.10 L163.41,36.97 L164.24,36.83 L165.07,36.70 L165.91,36.58 L166.74,36.45 L167.57,36.33 L168.40,36.22 L169.23,36.11 L170.06,36.00 L170.90,35.89 L171.73,35.79 L172.56,35.69 L173.39,35.60 L174.22,35.51 L175.06,35.42 L175.89,35.33 L176.72,35.25 L177.55,35.16 L178.38,35.09 L179.22,35.01 L180.05,34.94 L180.88,34.87 L181.71,34.80 L182.54,34.73 L183.38,34.67 L184.21,34.61 L185.04,34.55 L185.87,34.49 L186.70,34.43 L187.53,34.38 L188.37,34.32 L189.20,34.27 L190.03,34.22 L190.86,34.18 L191.69,34.13 L192.53,34.08 L193.36,34.04 L194.19,34.00 L195.02,33.96 L195.85,33.92 L196.69,33.88 L197.52,33.84 L198.35,33.80 L199.18,33.77 L200.01,33.73 L200.85,33.70 L201.68,33.66 L202.51,33.63 L203.34,33.60 L204.17,33.56 L205.00,33.53 L205.84,33.50 L206.67,33.47 L207.50,33.44 L208.33,33.42 L209.16,33.39 L210.00,33.36 L210.83,33.33 L211.66,33.31 L212.49,33.28 L213.32,33.26 L214.16,33.23 L214.99,33.21 L215.82,33.19 L216.65,33.17 L217.48,33.14 L218.32,33.12 L219.15,33.10 L219.98,33.08 L220.81,33.06 L221.64,33.04 L222.47,33.02 L223.31,33.01 L224.14,32.99 L224.97,32.97 L225.80,32.95 L226.63,32.94 L227.47,32.92 L228.30,32.90 L229.13,32.89 L229.96,32.87 L230.79,32.86 L231.63,32.84 L232.46,32.83 L233.29,32.81 L234.12,32.80 L234.95,32.79 L235.79,32.77 L236.62,32.76 L237.45,32.75 L238.28,32.74 L239.11,32.73 L239.94,32.72 L240.78,32.71 L241.61,32.70 L242.44,32.69 L243.27,32.68 L244.10,32.67 L244.94,32.66 L245.77,32.65 L246.60,32.65 L247.43,32.64 L248.26,32.64 L249.10,32.63 L249.93,32.63 L250.76,32.63 L251.59,32.62 L252.42,32.62 L253.26,32.62 L254.09,32.62 L254.92,32.62 L255.75,32.61 L256.58,32.61 L257.41,32.61 L258.25,32.62 L259.08,32.62 L259.91,32.62 L260.74,32.62 L261.57,32.62 L262.41,32.62 L263.24,32.63 L264.07,32.63 L264.90,32.63 L265.73,32.64 L266.57,32.64 L267.40,32.65 L268.23,32.65 L269.06,32.65 L269.89,32.66 L270.73,32.66 L271.56,32.67 L272.39,32.68 L273.22,32.68 L274.05,32.69 L274.88,32.69 L275.72,32.70 L276.55,32.70 L277.38,32.71 L278.21,32.72 L279.04,32.72 L279.88,32.73 L280.71,32.74 L281.54,32.75 L282.37,32.75 L283.20,32.76 L284.04,32.77 L284.87,32.78 L285.70,32.79 L286.53,32.80 L287.36,32.81 L288.20,32.83 L289.03,32.84 L289.86,32.85 L290.69,32.87 L291.52,32.88 L292.36,32.90 L293.19,32.92 L294.02,32.94 L294.85,32.96 L295.68,32.98 L296.51,33.01 L297.35,33.04 L298.18,33.07 L299.01,33.10 L299.84,33.13 L300.67,33.17 L301.51,33.22 L302.34,33.26 L303.17,33.31 L304.00,33.36 L304.83,33.42 L305.67,33.48 L306.50,33.55 L307.33,33.62 L308.16,33.70 L308.99,33.78 L309.83,33.87 L310.66,33.96 L311.49,34.06 L312.32,34.17 L313.15,34.28 L313.98,34.40 L314.82,34.52 L315.65,34.66 L316.48,34.80 L317.31,34.95 L318.14,35.11 L318.98,35.27 L319.81,35.45 L320.64,35.63 L321.47,35.83 L322.30,36.03 L323.14,36.25 L323.97,36.47 L324.80,36.70 L325.63,36.95 L326.46,37.20 L327.30,37.47 L328.13,37.75 L328.96,38.03 L329.79,38.33 L330.62,38.65 L331.45,38.97 L332.29,39.31 L333.12,39.66 L333.95,40.03 L334.78,40.41 L335.61,40.81 L336.45,41.22 L337.28,41.65 L338.11,42.10 L338.94,42.56 L339.77,43.05 L340.61,43.55 L341.44,44.07 L342.27,44.61 L343.10,45.17 L343.93,45.75 L344.77,46.34 L345.60,46.95 L346.43,47.58 L347.26,48.23 L348.09,48.90 L348.92,49.58 L349.76,50.28 L350.59,50.99 L351.42,51.72 L352.25,52.47 L353.08,53.23 L353.92,54.01 L354.75,54.80 L355.58,55.61 L356.41,56.43 L357.24,57.26 L358.08,58.11 L358.91,58.96 L359.74,59.84 L360.57,60.72 L361.40,61.62 L362.24,62.53 L363.07,63.45 L363.90,64.38 L364.73,65.32 L365.56,66.28 L366.39,67.24 L367.23,68.21 L368.06,69.20 L368.89,70.19 L369.72,71.20 L370.55,72.21 L371.39,73.23 L372.22,74.26 L373.05,75.30 L373.88,76.34 L374.71,77.40 L375.55,78.46 L376.38,79.52 L377.21,80.60 L378.04,81.68 L378.87,82.77 L379.71,83.86 L380.54,84.96 L381.37,86.07 L382.20,87.18 L383.03,88.29 L383.86,89.42 L384.70,90.54 L385.53,91.67 L386.36,92.80 L387.19,93.94 L388.02,95.08 L388.86,96.23 L389.69,97.38 L390.52,98.53 L391.35,99.68 L392.18,100.84 L393.02,102.00 L393.85,103.16 L394.68,104.32 L395.51,105.49 L396.34,106.66 L397.18,107.83 L398.01,109.00 L398.84,110.17 L399.67,111.35 L400.50,112.52 L401.33,113.70 L402.17,114.88 L403.00,116.06 L403.83,117.23 L404.66,118.41 L405.49,119.59 L406.33,120.77 L407.16,121.95 L407.99,123.13 L408.82,124.31 L409.65,125.49 L410.49,126.67 L411.32,127.84 L412.15,129.02 L412.98,130.19 L413.81,131.37 L414.65,132.54 L415.48,133.71 L416.31,134.88 L417.14,136.05 L417.97,137.22 L418.80,138.38 L419.64,139.55 L420.47,140.71 L421.30,141.88 L422.13,143.04 L422.96,144.20 L423.80,145.36 L424.63,146.52 L425.46,147.68 L426.29,148.84 L427.12,150.00 L427.96,151.16 L428.79,152.31 L429.62,153.47 L430.45,154.63 L431.28,155.79 L432.12,156.94 L432.95,158.10 L433.78,159.26 L434.61,160.41 L435.44,161.57 L436.27,162.72 L437.11,163.88 L437.94,165.04 L438.77,166.19 L439.60,167.35 L440.43,168.50 L441.27,169.66 L442.10,170.82 L442.93,171.98 L443.76,173.13 L444.59,174.29 L445.43,175.45 L446.26,176.61 L447.09,177.78 L447.92,178.94 L448.75,180.10 L449.59,181.27 L450.42,182.43 L451.25,183.60 L452.08,184.77 L452.91,185.94 L453.74,187.11 L454.58,188.29 L455.41,189.46 L456.24,190.64 L457.07,191.82 L457.90,193.01 L458.74,194.19 L459.57,195.38 L460.40,196.56 L461.23,197.75 L462.06,198.94 L462.90,200.13 L463.73,201.32 L464.56,202.51 L465.39,203.70 L466.22,204.89 L467.06,206.08 L467.89,207.27 L468.72,208.46 L469.55,209.65 L470.38,210.84 L471.21,212.03 L472.05,213.22 L472.88,214.40 L473.71,215.59 L474.54,216.78 L475.37,217.96 L476.21,219.15 L477.04,220.33 L477.87,221.51 L478.70,222.70 L479.53,223.88 L480.37,225.05 L481.20,226.23 L482.03,227.41 L482.86,228.58 L483.69,229.75 L484.53,230.92 L485.36,232.09 L486.19,233.25 L487.02,234.41 L487.85,235.56 L488.68,236.72 L489.52,237.87 L490.35,239.02 L491.18,240.16 L492.01,241.31 L492.84,242.45 L493.68,243.59 L494.51,244.73 L495.34,245.86 L496.17,246.99 L497.00,248.13 L497.84,249.26 L498.67,250.39 L499.50,251.51 L500.33,252.64 L501.16,253.77 L502.00,254.89 L502.83,256.01 L503.66,257.14 L504.49,258.26 L505.32,259.38 L506.15,260.50 L506.99,261.63 L507.82,262.75 L508.65,263.87 L509.48,264.99 L510.31,266.12 L511.15,267.24 L511.98,268.36 L512.81,269.49 L513.64,270.61 L514.47,271.73 L515.31,272.85 L516.14,273.97 L516.97,275.09 L517.80,276.21 L518.63,277.33 L519.47,278.44 L520.30,279.56 L521.13,280.67 L521.96,281.78 L522.79,282.89 L523.62,284.00 L524.46,285.10 L525.29,286.19 L526.12,287.29 L526.95,288.37 L527.78,289.46 L528.62,290.54 L529.45,291.61 L530.28,292.67 L531.11,293.73 L531.94,294.79 L532.78,295.83 L533.61,296.87 L534.44,297.89 L535.27,298.91 L536.10,299.92 L536.94,300.92 L537.77,301.91 L538.60,302.89 L539.43,303.86 L540.26,304.82 L541.09,305.76 L541.93,306.69 L542.76,307.61 L543.59,308.52 L544.42,309.41 L545.25,310.29 L546.09,311.15 L546.92,311.99 L547.75,312.82 L548.58,313.63 L549.41,314.42 L550.25,315.20 L551.08,315.95 L551.91,316.68 L552.74,317.40 L553.57,318.09 L554.41,318.76 L555.24,319.42 L556.07,320.06 L556.90,320.67 L557.73,321.28 L558.57,321.86 L559.40,322.43 L560.23,322.98 L561.06,323.52 L561.89,324.04 L562.72,324.54 L563.56,325.04 L564.39,325.52 L565.22,325.98 L566.05,326.44 L566.88,326.88 L567.72,327.31 L568.55,327.72 L569.38,328.13 L570.21,328.52 L571.04,328.91 L571.88,329.28 L572.71,329.64 L573.54,329.99 L574.37,330.33 L575.20,330.65 L576.04,330.97 L576.87,331.28 L577.70,331.57 L578.53,331.86 L579.36,332.13 L580.19,332.40 L581.03,332.65 L581.86,332.90 L582.69,333.13 L583.52,333.36 L584.35,333.57 L585.19,333.78 L586.02,333.98 L586.85,334.17 L587.68,334.35 L588.51,334.53 L589.35,334.69 L590.18,334.85 L591.01,335.00 L591.84,335.15 L592.67,335.29 L593.51,335.42 L594.34,335.55 L595.17,335.68 L596.00,335.79 L596.83,335.91 L597.66,336.02 L598.50,336.12 L599.33,336.22 L600.16,336.32 L600.99,336.41 L601.82,336.50 L602.66,336.59 L603.49,336.67 L604.32,336.75 L605.15,336.82 L605.98,336.90 L606.82,336.97 L607.65,337.03 L608.48,337.10 L609.31,337.16 L610.14,337.22 L610.98,337.28 L611.81,337.34 L612.64,337.39 L613.47,337.44 L614.30,337.49 L615.13,337.54 L615.97,337.59 L616.80,337.63 L617.63,337.68 L618.46,337.72 L619.29,337.76 L620.13,337.80 L620.96,337.84 L621.79,337.88 L622.62,337.91 L623.45,337.95 L624.29,337.98 L625.12,338.01 L625.95,338.04 L626.78,338.08 L627.61,338.10 L628.45,338.13 L629.28,338.16 L630.11,338.19 L630.94,338.21 L631.77,338.24 L632.60,338.26 L633.44,338.29 L634.27,338.31 L635.10,338.33 L635.93,338.35 L636.76,338.37 L637.60,338.39 L638.43,338.41 L639.26,338.43 L640.09,338.45 L640.92,338.47 L641.76,338.49 L642.59,338.51 L643.42,338.52 L644.25,338.54 L645.08,338.56 L645.92,338.58 L646.75,338.59 L647.58,338.61 L648.41,338.63 L649.24,338.64 L650.07,338.66 L650.91,338.67 L651.74,338.69 L652.57,338.70 L653.40,338.72 L654.23,338.74 L655.07,338.75 L655.90,338.77 L656.73,338.78 L657.56,338.80 L658.39,338.81 L659.23,338.83 L660.06,338.84 L660.89,338.86 L661.72,338.87 L662.55,338.89 L663.39,338.90 L664.22,338.92 L665.05,338.93 L665.88,338.95 L666.71,338.96 L667.54,338.98 L668.38,338.99 L669.21,339.01 L670.04,339.02 L670.87,339.04 L671.70,339.05 L672.54,339.07 L673.37,339.08 L674.20,339.10" fill="none" stroke="#3a619e" stroke-width="3.2" stroke-linejoin="round" stroke-linecap="round"/>
<line x1="92.75" y1="118.15" x2="674.15" y2="118.15" stroke="#d6803e" stroke-width="3.2" stroke-linecap="round"/>
<line x1="92.75" y1="210.87" x2="674.15" y2="210.87" stroke="#644a88" stroke-width="3.2" stroke-linecap="round"/>
<line x1="92.75" y1="273.28" x2="674.15" y2="273.28" stroke="#378fa6" stroke-width="3.2" stroke-linecap="round"/>
<text x="62.2" y="383.2" text-anchor="end" font-size="14.2">0</text>
<text x="62.2" y="310.8" text-anchor="end" font-size="14.2">50</text>
<text x="62.2" y="238.4" text-anchor="end" font-size="14.2">100</text>
<text x="62.2" y="165.9" text-anchor="end" font-size="14.2">150</text>
<text x="62.2" y="93.5" text-anchor="end" font-size="14.2">200</text>
<text x="62.2" y="21.1" text-anchor="end" font-size="14.2">250</text>
<text x="77.2" y="404.8" text-anchor="middle" font-size="14.2">0</text>
<text x="153.6" y="404.8" text-anchor="middle" font-size="14.2">5</text>
<text x="230.1" y="404.8" text-anchor="middle" font-size="14.2">10</text>
<text x="306.6" y="404.8" text-anchor="middle" font-size="14.2">15</text>
<text x="383.1" y="404.8" text-anchor="middle" font-size="14.2">20</text>
<text x="459.6" y="404.8" text-anchor="middle" font-size="14.2">25</text>
<text x="536.2" y="404.8" text-anchor="middle" font-size="14.2">30</text>
<text x="612.7" y="404.8" text-anchor="middle" font-size="14.2">35</text>
<text x="689.2" y="404.8" text-anchor="middle" font-size="14.2">40</text>
<text x="343.6" y="429.6" font-size="12.6" font-weight="bold" textLength="84.5" lengthAdjust="spacingAndGlyphs">Location(mm)</text>
<g transform="translate(28.7,288.6) rotate(-90)"><text x="0" y="0" font-size="12.6" font-weight="bold" textLength="87" lengthAdjust="spacingAndGlyphs">Temperature(</text><text x="96.6" y="-4.2" font-size="9.5" fill="#8a8a8a">°</text><text x="103.2" y="0" font-size="12.6" font-weight="bold" textLength="10.8" lengthAdjust="spacingAndGlyphs">C)</text></g>
<rect x="507.5" y="20.5" width="178.5" height="130.0" fill="#fff" stroke="#404040" stroke-width="1"/>
<line x1="512.3" y1="31.2" x2="540.2" y2="31.2" stroke="#a4433d" stroke-width="3.2" stroke-linecap="round"/>
<text x="543.6" y="35.9" font-size="14.5" textLength="139.2" lengthAdjust="spacingAndGlyphs">Heater6 Not Working</text>
<line x1="512.3" y1="52.7" x2="540.2" y2="52.7" stroke="#86a64b" stroke-width="3.2" stroke-linecap="round"/>
<text x="543.6" y="57.4" font-size="14.5" textLength="74.5" lengthAdjust="spacingAndGlyphs">No Heater6</text>
<line x1="512.3" y1="73.9" x2="540.2" y2="73.9" stroke="#3a619e" stroke-width="3.2" stroke-linecap="round"/>
<text x="543.6" y="78.6" font-size="14.5" textLength="111.3" lengthAdjust="spacingAndGlyphs">240C No Heater6</text>
<line x1="512.3" y1="95.5" x2="540.2" y2="95.5" stroke="#d6803e" stroke-width="3.2" stroke-linecap="round"/>
<text x="543.6" y="100.2" font-size="14.5" textLength="31.8" lengthAdjust="spacingAndGlyphs">180C</text>
<line x1="512.3" y1="117.0" x2="540.2" y2="117.0" stroke="#644a88" stroke-width="3.2" stroke-linecap="round"/>
<text x="543.6" y="121.7" font-size="14.5" textLength="31.8" lengthAdjust="spacingAndGlyphs">116C</text>
<line x1="512.3" y1="138.5" x2="540.2" y2="138.5" stroke="#378fa6" stroke-width="3.2" stroke-linecap="round"/>
<text x="543.6" y="143.2" font-size="14.5" textLength="23.4" lengthAdjust="spacingAndGlyphs">73C</text>
</svg>
</body></html>
